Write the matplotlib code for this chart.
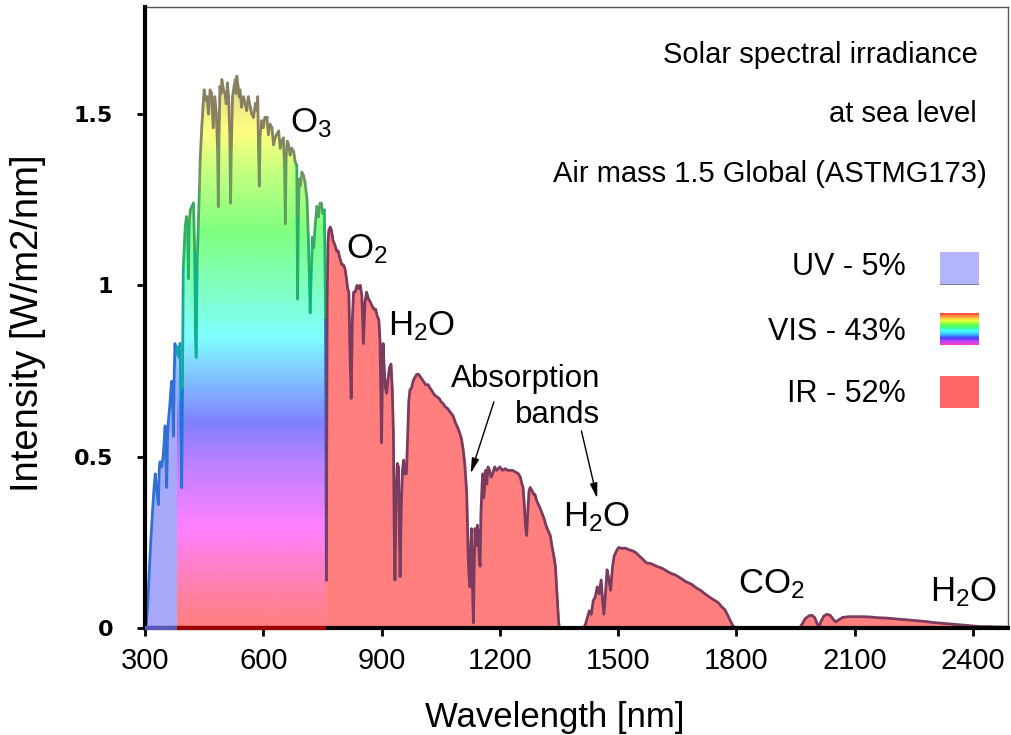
import numpy as np
import matplotlib.pyplot as plt
from matplotlib.colors import LinearSegmentedColormap
from matplotlib.collections import LineCollection

# Solar spectral irradiance (nm, W/m2/nm)
uv_nm = [300, 303, 307, 311, 315, 319, 323, 326, 330, 334, 336, 338, 342, 346, 349,
         351, 353, 355, 357, 359, 363, 366, 368, 370, 372, 374, 376, 378, 380]
uv_val = [0.00, 0.01, 0.07, 0.17, 0.26, 0.34, 0.41, 0.45, 0.40, 0.36, 0.46, 0.485, 0.47, 0.50, 0.55,
          0.59, 0.50, 0.41, 0.55, 0.60, 0.65, 0.70, 0.72, 0.68, 0.56, 0.74, 0.83, 0.81, 0.80]

vis_nm = [380, 383, 386, 389, 391, 393, 395, 397, 400, 402, 405, 408, 410, 412, 415,
          419, 423, 426, 428, 430, 432, 435, 438, 440, 444, 447, 450, 454, 457, 461,
          465, 469, 473, 477, 481, 484, 486, 488, 490, 493, 495, 499, 503, 506, 509,
          512, 515, 517, 519, 522, 526, 529, 531, 533, 536, 539, 541, 545, 550, 554,
          558, 562, 567, 571, 575, 580, 584, 586, 588, 590, 592, 596, 600, 604, 609,
          613, 617, 622, 626, 630, 634, 639, 643, 647, 651, 654, 656, 658, 661, 664,
          668, 672, 677, 681, 685, 687, 689, 691, 694, 698, 702, 706, 711, 714, 717,
          719, 722, 725, 728, 732, 736, 740, 744, 747, 751, 755, 758, 760]
vis_val = [0.80, 0.82, 0.79, 0.83, 0.66, 0.41, 0.70, 1.05, 1.12, 1.17, 1.20, 1.18, 1.02, 1.18, 1.22,
           1.23, 1.24, 1.10, 0.85, 0.79, 1.05, 1.17, 1.28, 1.37, 1.46, 1.52, 1.57, 1.54, 1.55, 1.50,
           1.57, 1.56, 1.46, 1.55, 1.50, 1.40, 1.23, 1.45, 1.58, 1.56, 1.60, 1.57, 1.56, 1.53, 1.59,
           1.55, 1.45, 1.24, 1.40, 1.55, 1.58, 1.60, 1.56, 1.61, 1.58, 1.55, 1.57, 1.52, 1.55, 1.53,
           1.51, 1.55, 1.52, 1.50, 1.49, 1.53, 1.51, 1.55, 1.40, 1.29, 1.44, 1.48, 1.46, 1.49, 1.49,
           1.44, 1.47, 1.46, 1.41, 1.43, 1.44, 1.45, 1.40, 1.42, 1.43, 1.35, 1.18, 1.38, 1.42, 1.41,
           1.38, 1.40, 1.39, 1.36, 1.35, 0.96, 1.20, 1.31, 1.29, 1.33, 1.32, 1.30, 1.25, 1.15, 1.02,
           0.92, 1.05, 1.14, 1.11, 1.18, 1.23, 1.20, 1.24, 1.24, 1.21, 1.22, 0.90, 0.14]

ir_nm = [760, 762, 764, 766, 770, 773, 777, 781, 786, 790, 794, 799, 803, 807, 811,
         814, 817, 820, 823, 826, 829, 833, 838, 842, 846, 850, 854, 858, 862, 867,
         872, 876, 881, 885, 889, 893, 896, 898, 900, 902, 904, 907, 910, 913, 916,
         920, 924, 927, 930, 932, 934, 937, 940, 943, 945, 947, 950, 953, 956, 959,
         963, 966, 969, 972, 976, 980, 984, 989, 994, 1000, 1006, 1012, 1018, 1023, 1029,
         1034, 1040, 1046, 1051, 1056, 1062, 1068, 1074, 1081, 1087, 1093, 1098, 1103, 1107, 1111,
         1114, 1116, 1118, 1120, 1122, 1124, 1126, 1128, 1130, 1133, 1135, 1137, 1140, 1143, 1145,
         1148, 1150, 1152, 1155, 1157, 1159, 1161, 1164, 1167, 1170, 1174, 1178, 1182, 1187, 1192,
         1200, 1207, 1214, 1220, 1225, 1232, 1240, 1247, 1252, 1256, 1259, 1262, 1265, 1268, 1271,
         1274, 1277, 1282, 1286, 1289, 1294, 1298, 1302, 1307, 1312, 1317, 1322, 1328, 1332, 1337,
         1341, 1344, 1347, 1349, 1351, 1412,
         1417, 1422, 1427, 1432, 1437, 1442, 1447, 1452, 1457, 1460, 1464, 1468, 1472, 1477, 1481,
         1486, 1490, 1494, 1498, 1502, 1510, 1519, 1528, 1537, 1545, 1554, 1563, 1572, 1583, 1592,
         1602, 1610, 1618, 1628, 1637, 1645, 1652, 1662, 1672, 1686, 1697, 1709, 1720, 1732, 1743,
         1754, 1762, 1771, 1779, 1786, 1792, 1798, 1803, 1960,
         1967, 1975, 1985, 1992, 1999, 2004, 2009, 2015, 2022, 2030, 2038, 2046, 2052, 2060, 2070,
         2085, 2100, 2120, 2140, 2160, 2180, 2200, 2220, 2240, 2260, 2280, 2300, 2320, 2340, 2360,
         2380, 2400, 2420, 2440, 2460, 2480, 2500]
ir_val = [0.14, 0.95, 1.12, 1.16, 1.17, 1.16, 1.13, 1.12, 1.10, 1.10, 1.08, 1.06, 1.06, 1.05, 1.02,
          0.99, 0.98, 0.80, 0.67, 0.90, 0.98, 0.98, 1.00, 0.99, 1.00, 0.97, 0.83, 0.95, 0.98, 0.96,
          0.95, 0.94, 0.93, 0.93, 0.91, 0.90, 0.84, 0.70, 0.54, 0.72, 0.83, 0.75, 0.70, 0.685, 0.72,
          0.76, 0.77, 0.70, 0.57, 0.30, 0.14, 0.40, 0.48, 0.47, 0.30, 0.15, 0.35, 0.46, 0.49, 0.45,
          0.45, 0.55, 0.66, 0.695, 0.70, 0.72, 0.73, 0.74, 0.74, 0.73, 0.72, 0.71, 0.71, 0.70, 0.69,
          0.68, 0.675, 0.67, 0.66, 0.655, 0.645, 0.64, 0.63, 0.62, 0.60, 0.585, 0.57, 0.55, 0.52, 0.48,
          0.43, 0.39, 0.30, 0.20, 0.15, 0.12, 0.22, 0.29, 0.15, 0.015, 0.18, 0.29, 0.24, 0.30, 0.28,
          0.20, 0.18, 0.33, 0.42, 0.45, 0.38, 0.40, 0.46, 0.42, 0.47, 0.46, 0.44, 0.45, 0.47, 0.46,
          0.47, 0.46, 0.465, 0.46, 0.46, 0.46, 0.455, 0.45, 0.44, 0.42, 0.41, 0.36, 0.30, 0.27, 0.34,
          0.40, 0.41, 0.40, 0.39, 0.39, 0.37, 0.36, 0.35, 0.335, 0.32, 0.30, 0.285, 0.27, 0.24, 0.21,
          0.18, 0.12, 0.06, 0.02, 0.00, 0.00,
          0.01, 0.03, 0.05, 0.04, 0.08, 0.09, 0.12, 0.10, 0.14, 0.09, 0.04, 0.10, 0.17, 0.14, 0.11,
          0.18, 0.21, 0.22, 0.23, 0.235, 0.232, 0.233, 0.228, 0.225, 0.22, 0.21, 0.20, 0.19, 0.188, 0.183,
          0.178, 0.175, 0.17, 0.163, 0.158, 0.155, 0.15, 0.143, 0.135, 0.128, 0.118, 0.11, 0.10, 0.09, 0.082,
          0.074, 0.063, 0.053, 0.035, 0.018, 0.005, 0.00, 0.00, 0.00,
          0.012, 0.028, 0.036, 0.037, 0.030, 0.015, 0.003, 0.020, 0.035, 0.040, 0.037, 0.025, 0.018, 0.024, 0.031,
          0.033, 0.033, 0.033, 0.032, 0.030, 0.029, 0.027, 0.025, 0.023, 0.021, 0.019, 0.016, 0.014, 0.012, 0.010,
          0.008, 0.006, 0.004, 0.004, 0.003, 0.003, 0.002]

x_ticks = [300, 600, 900, 1200, 1500, 1800, 2100, 2400]
y_ticks = [0, 0.5, 1, 1.5]
y_tick_labels = ["0", "0.5", "1", "1.5"]

title_lines = ["Solar spectral irradiance", "at sea level", "Air mass 1.5 Global (ASTMG173)"]
legend_labels = ["UV - 5%", "VIS - 43%", "IR - 52%"]

W, H = 1012, 735
plt.rcParams['font.family'] = ['Liberation Sans', 'DejaVu Sans']


def fpx(x, y):
    # pixel position -> figure fraction
    return x / W, 1 - y / H


fig = plt.figure(figsize=(W / 100, H / 100), dpi=100)
ax = fig.add_axes([145 / W, 1 - 628 / H, (1008 - 145) / W, (628 - 7) / H])
xmax, ymax = 2489, 1.812

# gradient colormaps for the visible band
vis_fill_cmap = LinearSegmentedColormap.from_list("visfill", [
    (0.00, "#ff8080"), (0.05, "#ff80a0"), (0.16, "#ff80ff"), (0.26, "#c080ff"),
    (0.33, "#8080ff"), (0.40, "#80c0ff"), (0.47, "#80ffff"), (0.55, "#80ffc0"),
    (0.64, "#80ff80"), (0.73, "#c0ff80"), (0.80, "#ffff80"), (0.88, "#e0d890"),
    (1.00, "#d0c890")])
vis_line_cmap = LinearSegmentedColormap.from_list("visline", [
    (0.00, "#3050e0"), (0.28, "#2060e0"), (0.40, "#1890d0"), (0.50, "#10a8b0"),
    (0.62, "#10b870"), (0.72, "#40a860"), (0.80, "#709860"), (0.88, "#888060"),
    (1.00, "#888060")])

# UV
ax.fill_between(uv_nm, uv_val, color="#a8a8fa", lw=0, zorder=1)
ax.plot(uv_nm, uv_val, color="#2f6fd6", lw=2, zorder=3)

# VIS: rainbow gradient clipped to the spectrum
vis_poly = ax.fill_between(vis_nm, vis_val, facecolor="none", lw=0, zorder=1)
grad = np.linspace(0, 1, 256).reshape(-1, 1)
im = ax.imshow(grad, extent=[vis_nm[0], vis_nm[-1], 0, ymax], origin="lower",
               aspect="auto", cmap=vis_fill_cmap, zorder=1, interpolation="bilinear")
im.set_clip_path(vis_poly.get_paths()[0], transform=ax.transData)
pts = np.column_stack([vis_nm, vis_val])
segs = np.stack([pts[:-1], pts[1:]], axis=1)
seg_y = (pts[:-1, 1] + pts[1:, 1]) / 2
lc = LineCollection(segs, colors=vis_line_cmap(seg_y / 1.65), linewidths=2, zorder=3,
                    capstyle="round", joinstyle="round")
ax.add_collection(lc)

# IR (thin matching edge closes the seam with the VIS gradient)
ax.fill_between(ir_nm, ir_val, facecolor="#ff7f7f", edgecolor="#ff7f7f", lw=1, zorder=1.5)
ax.plot(ir_nm, ir_val, color="#7b3b5e", lw=2, zorder=3)

# coloured baseline under UV / VIS
ax.plot([uv_nm[0], uv_nm[-1]], [0, 0], color="#5a5ab8", lw=3, clip_on=False, zorder=6,
        solid_capstyle="butt")
ax.plot([vis_nm[0], vis_nm[-1]], [0, 0], color="#9a0000", lw=3, clip_on=False, zorder=6,
        solid_capstyle="butt")

ax.set_xlim(300, xmax)
ax.set_ylim(0, ymax)
ax.set_xticks(x_ticks)
ax.set_xticklabels([str(t) for t in x_ticks], fontsize=21)
ax.set_yticks(y_ticks)
ax.set_yticklabels(y_tick_labels, fontsize=16, family="DejaVu Sans", fontweight="bold")
ax.tick_params(axis="x", direction="out", length=6, width=2, pad=8)
ax.tick_params(axis="y", direction="out", length=6, width=2, pad=17)
for side in ["left", "bottom"]:
    ax.spines[side].set_linewidth(3)
    ax.spines[side].set_zorder(5)
for side in ["top", "right"]:
    ax.spines[side].set_linewidth(1)
    ax.spines[side].set_color("#555555")

# molecule labels
mol_kw = dict(fontsize=25, ha="left", va="baseline", zorder=7)
ax.text(668, 1.445, r"$\mathregular{O_3}$", **mol_kw)
ax.text(811, 1.08, r"$\mathregular{O_2}$", **mol_kw)
ax.text(917, 0.855, r"$\mathregular{H_2O}$", **mol_kw)
ax.text(1360, 0.298, r"$\mathregular{H_2O}$", **mol_kw)
ax.text(1804, 0.101, r"$\mathregular{CO_2}$", **mol_kw)
ax.text(2291, 0.077, r"$\mathregular{H_2O}$", **mol_kw)

ax.text(1456, 0.702, "Absorption", fontsize=22.5, ha="right", va="baseline")
ax.text(1454, 0.597, "bands", fontsize=22.5, ha="right", va="baseline")
arrow_kw = dict(arrowstyle="-|>,head_length=0.9,head_width=0.22", color="black", lw=1,
                shrinkA=0, shrinkB=0)
ax.annotate("", xy=(1126, 0.451), xytext=(1185, 0.66), arrowprops=arrow_kw)
ax.annotate("", xy=(1447, 0.378), xytext=(1407, 0.575), arrowprops=arrow_kw)

# title block
fig.text(*fpx(978, 63), title_lines[0], fontsize=21, ha="right", va="baseline")
fig.text(*fpx(977, 121.5), title_lines[1], fontsize=21, ha="right", va="baseline")
fig.text(*fpx(987, 182.5), title_lines[2], fontsize=21, ha="right", va="baseline")

# legend
leg_y = [275, 340, 401.5]
for lab, yb in zip(legend_labels, leg_y):
    fig.text(*fpx(906, yb), lab, fontsize=22, ha="right", va="baseline")

sw_uv = fig.add_axes([940 / W, 1 - 285 / H, 39 / W, 33 / H])
sw_uv.set_facecolor("#b4b4fc")
sw_uv.set_xticks([]); sw_uv.set_yticks([])
for s in sw_uv.spines.values():
    s.set_visible(False)
sw_uv.axhline(0, color="#7070a0", lw=2)

sw_vis = fig.add_axes([940 / W, 1 - 345 / H, 39 / W, 32 / H])
rainbow = LinearSegmentedColormap.from_list("rb", [
    "#ff40c0", "#c040ff", "#4040ff", "#40c0ff", "#40ffff", "#40ff80", "#80ff40",
    "#ffff40", "#ffa040", "#ff4040"])
sw_vis.imshow(np.linspace(0, 1, 64).reshape(-1, 1), cmap=rainbow, aspect="auto", origin="lower")
sw_vis.axis("off")

sw_ir = fig.add_axes([940 / W, 1 - 408 / H, 39 / W, 32 / H])
sw_ir.set_facecolor("#ff6666")
sw_ir.set_xticks([]); sw_ir.set_yticks([])
for s in sw_ir.spines.values():
    s.set_visible(False)

# axis labels
fig.text(*fpx(555, 727), "Wavelength [nm]", fontsize=25, ha="center", va="baseline")
fig.text(*fpx(28, 323), "Intensity [W/m2/nm]", fontsize=27.5, rotation=90,
         ha="center", va="center")

fig.savefig("out.png", dpi=100)
